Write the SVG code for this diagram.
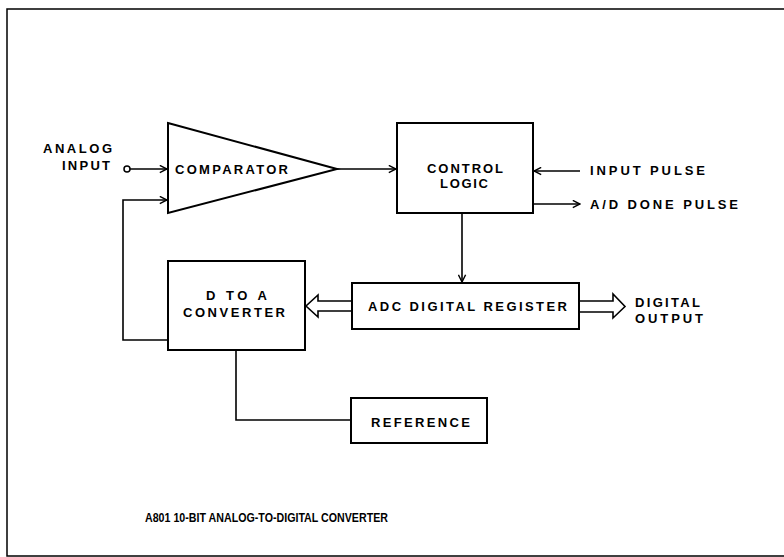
<svg xmlns="http://www.w3.org/2000/svg" width="784" height="557" viewBox="0 0 784 557">
<style>
.box{fill:#fff;stroke:#000;stroke-width:2}
.ln{fill:none;stroke:#000;stroke-width:1.6}
.t{font-family:"Liberation Sans",Arial,sans-serif;font-size:13px;font-weight:bold;fill:#000}
</style>
<defs>
<marker id="ah" viewBox="0 0 10 10" refX="9" refY="5" markerWidth="9" markerHeight="9" markerUnits="userSpaceOnUse" orient="auto">
<path d="M1,1 L9,5 L1,9" fill="none" stroke="#000" stroke-width="1.6"/>
</marker>
</defs>
<rect width="784" height="557" fill="#fff"/>
<rect x="7" y="9" width="800" height="547" fill="none" stroke="#000" stroke-width="1.5"/>

<g id="connectors">
<circle cx="127" cy="169" r="3" fill="#fff" stroke="#000" stroke-width="1.5"/>
<line class="ln" x1="130" y1="169" x2="167" y2="169" marker-end="url(#ah)"/>
<polyline class="ln" points="168,340 123,340 123,200 167,200" marker-end="url(#ah)"/>
<line class="ln" x1="337" y1="169" x2="396" y2="169" marker-end="url(#ah)"/>
<line class="ln" x1="580" y1="171" x2="534" y2="171" marker-end="url(#ah)"/>
<line class="ln" x1="533" y1="204" x2="580" y2="204" marker-end="url(#ah)"/>
<line class="ln" x1="462" y1="213" x2="462" y2="282" marker-end="url(#ah)"/>
<polyline class="ln" points="236,350 236,420 351,420"/>
<path class="ln" d="M352,301 L318,301 L318,295 L306,306 L318,317 L318,311 L352,311"/>
<path class="ln" d="M579,301 L613,301 L613,294 L625,306.5 L613,318 L613,312 L579,312"/>
</g>

<g id="comparator">
<polygon class="box" points="168,123 337,169 168,213"/>
<text class="t" x="175" y="174" textLength="113" lengthAdjust="spacing">COMPARATOR</text>
</g>
<g id="analog-input">
<text class="t" x="43" y="153" textLength="69" lengthAdjust="spacing">ANALOG</text>
<text class="t" x="62" y="170" textLength="48" lengthAdjust="spacing">INPUT</text>
</g>
<g id="control-logic">
<rect class="box" x="397" y="123" width="136" height="90"/>
<text class="t" x="427" y="173" textLength="76" lengthAdjust="spacing">CONTROL</text>
<text class="t" x="440" y="188" textLength="48" lengthAdjust="spacing">LOGIC</text>
</g>
<g id="input-pulse">
<text class="t" x="590" y="175" textLength="115" lengthAdjust="spacing">INPUT PULSE</text>
</g>
<g id="done-pulse">
<text class="t" x="590" y="209" textLength="148" lengthAdjust="spacing">A/D DONE PULSE</text>
</g>
<g id="d-to-a">
<rect class="box" x="168" y="261" width="137" height="89"/>
<text class="t" x="206" y="300" textLength="61" lengthAdjust="spacing">D TO A</text>
<text class="t" x="183" y="317" textLength="102" lengthAdjust="spacing">CONVERTER</text>
</g>
<g id="adc-register">
<rect class="box" x="352" y="283" width="227" height="46"/>
<text class="t" x="368" y="311" textLength="199" lengthAdjust="spacing">ADC DIGITAL REGISTER</text>
</g>
<g id="digital-output">
<text class="t" x="635" y="307" textLength="65" lengthAdjust="spacing">DIGITAL</text>
<text class="t" x="635" y="323" textLength="68" lengthAdjust="spacing">OUTPUT</text>
</g>
<g id="reference">
<rect class="box" x="351" y="398" width="136" height="45"/>
<text class="t" x="371" y="427" textLength="99" lengthAdjust="spacing">REFERENCE</text>
</g>
<g id="title">
<text class="t" x="145" y="522" textLength="243" lengthAdjust="spacingAndGlyphs" style="font-size:12px">A801 10-BIT ANALOG-TO-DIGITAL CONVERTER</text>
</g>
</svg>
